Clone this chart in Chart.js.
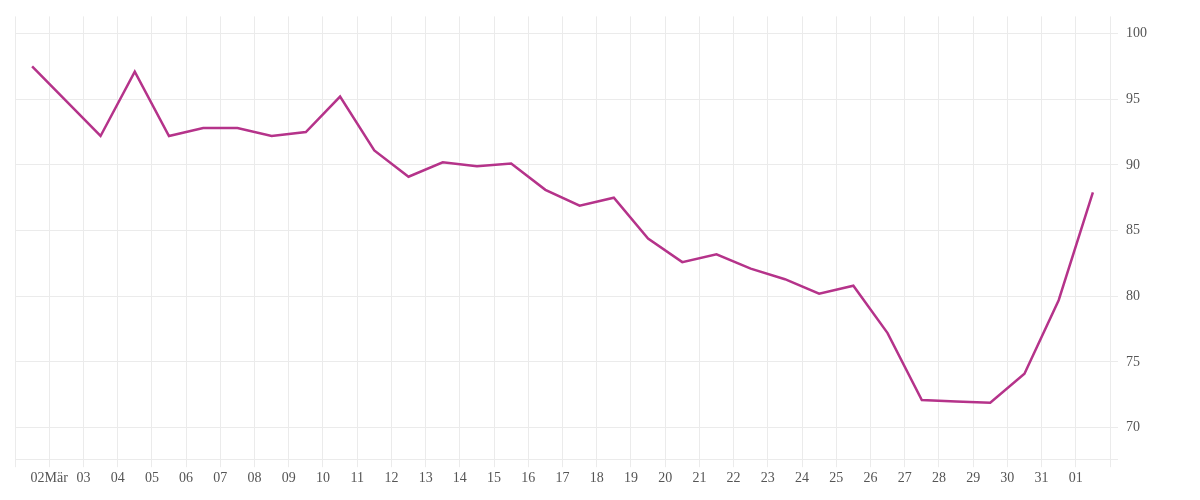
<!DOCTYPE html>
<html><head><meta charset="utf-8">
<script src="https://cdn.jsdelivr.net/npm/chart.js@4"></script>
<style>html,body{margin:0;padding:0;background:#fff}#w{width:1200px;height:500px}</style>
</head><body><div id="w"><canvas id="c"></canvas></div>
<script>
// day offsets from 01 Mär 00:00 (data at noon)
const days = [0.5,2.5,3.5,4.5,5.5,6.5,7.5,8.5,9.5,10.5,11.5,12.5,13.5,14.5,15.5,16.5,17.5,18.5,19.5,20.5,21.5,22.5,23.5,24.5,25.5,26.5,27.5,28.5,29.5,30.5,31.5];
const values = [97.5,92.2,97.1,92.2,92.8,92.8,92.2,92.5,95.2,91.1,89.1,90.2,89.9,90.1,88.1,86.9,87.5,84.4,82.6,83.2,82.1,81.3,80.2,80.8,77.2,72.1,72.0,71.9,74.1,79.7,87.9];
const dayLabels = ["","02Mär","03","04","05","06","07","08","09","10","11","12","13","14","15","16","17","18","19","20","21","22","23","24","25","26","27","28","29","30","31","01",""];
const yTicks = [70,75,80,85,90,95,100];

new Chart(document.getElementById('c'), {
  type: 'line',
  data: { datasets: [{ data: days.map((d,i)=>({x:d,y:values[i]})), borderColor:'#b5338a', borderWidth:2.5, pointRadius:0, tension:0, fill:false }] },
  options: {
    responsive:true, maintainAspectRatio:false, animation:false,
    layout:{padding:{left:15,top:8,right:0,bottom:10}},
    plugins:{legend:{display:false},tooltip:{enabled:false}},
    scales:{
      x:{type:'linear',min:0,max:32,
        grid:{color:'#ebebeb',tickLength:8},border:{display:false},
        ticks:{stepSize:1,autoSkip:false,maxRotation:0,color:'#555',font:{family:'Liberation Serif',size:14},
          callback:v=>dayLabels[v]??''}},
      y:{position:'right',min:67.6,max:101.3,
        grid:{color:'#ebebeb',tickLength:8},border:{display:false},
        afterBuildTicks:a=>{a.ticks=[{value:67.6}].concat(yTicks.map(v=>({value:v})));},
        ticks:{color:'#555',padding:8,font:{family:'Liberation Serif',size:14},
          callback:v=>yTicks.includes(v)?String(v):''},
        afterFit:a=>{a.width=90;}}
    }
  }
});
</script></body></html>
